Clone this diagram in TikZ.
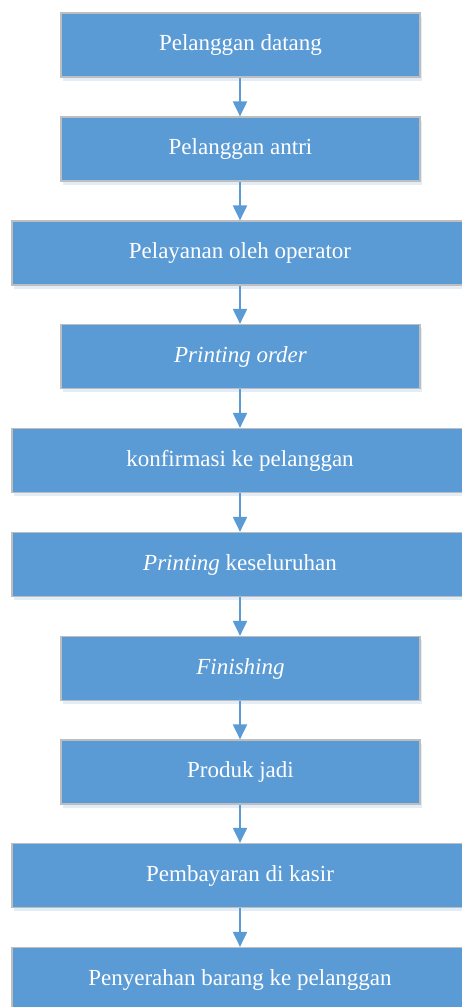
\documentclass[tikz,border=0pt]{standalone}
\usepackage{fontspec}
\setmainfont{Liberation Serif}
\usetikzlibrary{arrows.meta,shadows}
\definecolor{boxblue}{HTML}{5B9BD5}
\definecolor{boxedge}{HTML}{BEBEBE}
\definecolor{shade}{HTML}{DCE8F5}
\tikzset{
  stepbox/.style={draw=boxedge, line width=1.2pt, fill=boxblue, text=white,
    minimum height=64pt, inner sep=0pt,
    font=\fontsize{23}{27}\selectfont,
    drop shadow={shadow xshift=1.5pt, shadow yshift=-3.5pt, fill=shade, opacity=0.8}},
  narrowbox/.style={stepbox, minimum width=359pt},
  widebox/.style={stepbox, minimum width=456pt},
  flow/.style={draw=boxblue, line width=2pt,
    -{Triangle[width=14pt,length=15pt]}}
}
\begin{document}
\begin{tikzpicture}[x=1pt,y=-1pt]
  \useasboundingbox (0,0) rectangle (461,1007);
  \coordinate (ax) at (240,0);
  % process steps, top to bottom
  \node[narrowbox] (s1)  at (240.5,45)  {Pelanggan datang};
  \node[narrowbox] (s2)  at (240.5,149) {Pelanggan antri};
  \node[widebox]   (s3)  at (240,253) {Pelayanan oleh operator};
  \node[narrowbox] (s4)  at (240.5,356.5) {\itshape Printing order};
  \node[widebox]   (s5)  at (240,460.5) {konfirmasi ke pelanggan};
  \node[widebox]   (s6)  at (240,564.5) {\textit{Printing} keseluruhan};
  \node[narrowbox] (s7)  at (240.5,668.5) {\itshape Finishing};
  \node[narrowbox] (s8)  at (240.5,772) {Produk jadi};
  \node[widebox]   (s9)  at (240,875.5) {Pembayaran di kasir};
  \node[widebox]   (s10) at (240,979.5) {Penyerahan barang ke pelanggan};
  % connectors
  \foreach \a/\b in {s1/s2,s2/s3,s3/s4,s4/s5,s5/s6,s6/s7,s7/s8,s8/s9,s9/s10}
    \draw[flow] (\a.south -| ax) -- (\b.north -| ax);
\end{tikzpicture}
\end{document}
